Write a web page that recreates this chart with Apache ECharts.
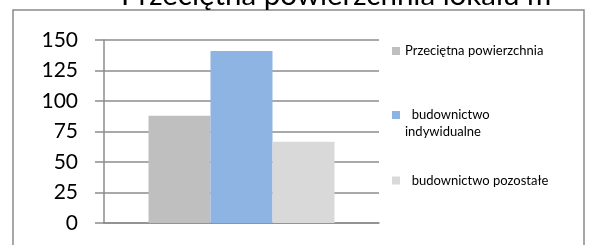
<!DOCTYPE html>
<html>
<head>
<meta charset="utf-8">
<script src="https://cdn.jsdelivr.net/npm/echarts@6/dist/echarts.min.js"></script>
<style>
  html, body { margin: 0; padding: 0; background: #fff; }
  #chart { width: 591px; height: 245px; }
</style>
</head>
<body>
<div id="chart"></div>
<script>
// dane z wykresu
const titleText = 'Przeciętna powierzchnia lokalu m';
const seriesNames = ['Przeciętna powierzchnia', 'budownictwo indywidualne', 'budownictwo pozostałe'];
const seriesValues = [88, 141, 66.5];
const seriesColors = ['#BFBFBF', '#8EB4E3', '#D9D9D9'];
const yTicks = { min: 0, max: 150, step: 25 };

const font = 'Lato';
const legendText = { fontSize: 13, fontFamily: font, color: '#000', lineHeight: 17 };

const chart = echarts.init(document.getElementById('chart'));

const option = {
  animation: false,
  title: {
    text: titleText,
    left: 121,
    top: -20,
    padding: 0,
    textStyle: { fontSize: 29.5, fontWeight: 'normal', color: '#000', fontFamily: font }
  },
  graphic: [{
    type: 'rect',
    shape: { x: 13, y: 10, width: 571, height: 260 },
    style: { fill: 'none', stroke: '#8a8a8a', lineWidth: 1.5 },
    silent: true
  }],
  legend: [
    {
      data: [seriesNames[0]],
      left: 392, top: 42.5, padding: 0,
      itemWidth: 8, itemHeight: 8, icon: 'rect',
      textStyle: legendText
    },
    {
      // pusta pierwsza linia, zeby "budownictwo" bylo na wysokosci ikony
      data: [seriesNames[1]],
      left: 392, top: 89.5, padding: 0,
      itemWidth: 8, itemHeight: 8, icon: 'rect',
      formatter: () => '\n  budownictwo\nindywidualne',
      textStyle: legendText
    },
    {
      data: [seriesNames[2]],
      left: 392, top: 172, padding: 0,
      itemWidth: 8, itemHeight: 8, icon: 'rect',
      formatter: () => '  budownictwo pozostałe',
      textStyle: legendText
    }
  ],
  grid: { left: 104, right: 212, top: 40, bottom: 22 },
  xAxis: {
    type: 'category',
    data: [''],
    axisLine: { lineStyle: { color: '#8c8c8c', width: 1.5 } },
    axisTick: { show: false },
    axisLabel: { show: false }
  },
  yAxis: {
    type: 'value',
    min: yTicks.min,
    max: yTicks.max,
    interval: yTicks.step,
    axisLine: { show: true, lineStyle: { color: '#8c8c8c', width: 1.5 } },
    axisTick: { show: true, length: 9, lineStyle: { color: '#8c8c8c', width: 1.5 } },
    axisLabel: { fontSize: 21, fontFamily: font, color: '#000', margin: 26 },
    splitLine: { lineStyle: { color: '#8c8c8c', width: 1.5 } }
  },
  series: seriesNames.map((name, i) => ({
    name: name,
    type: 'bar',
    barWidth: 62,
    barGap: '0%',
    itemStyle: { color: seriesColors[i] },
    data: [seriesValues[i]]
  }))
};

chart.setOption(option);
</script>
</body>
</html>
